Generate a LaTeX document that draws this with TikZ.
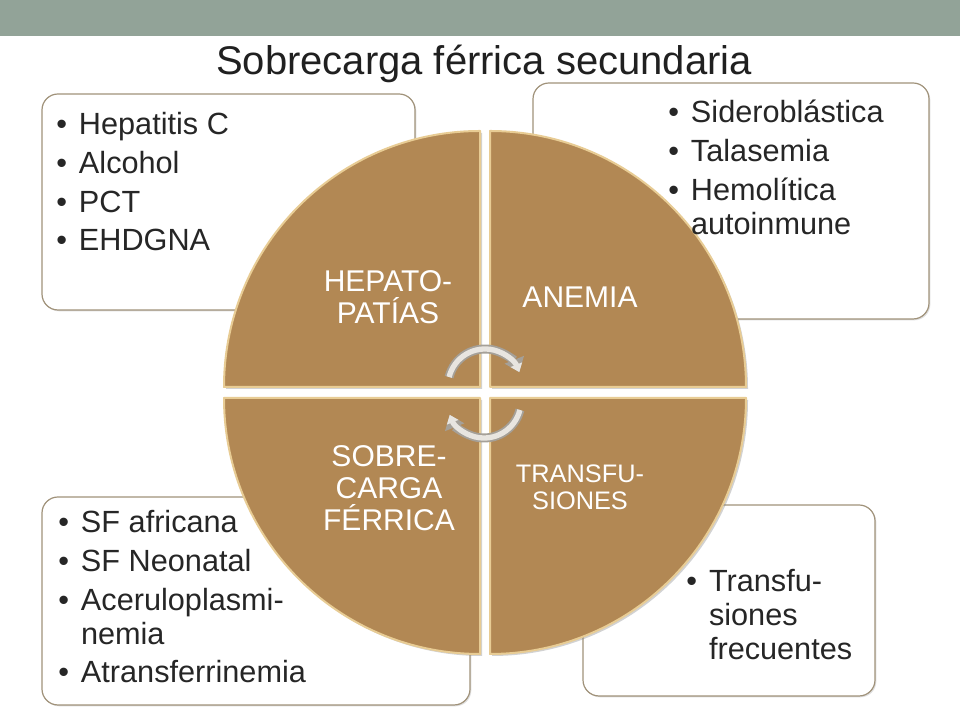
\documentclass[tikz,border=0pt]{standalone}
\usepackage{fontspec}
\setmainfont{Liberation Sans}
\usepackage{tikz}
\usetikzlibrary{arrows.meta,shadows}
\definecolor{barcol}{RGB}{146,163,152}
\definecolor{bronze}{RGB}{178,136,84}
\definecolor{bevel}{RGB}{232,204,148}
\definecolor{boxline}{RGB}{160,146,122}
\definecolor{inkcol}{RGB}{38,38,38}
\definecolor{titlecol}{RGB}{32,32,32}
\definecolor{arrowedge}{RGB}{165,160,152}
\definecolor{arrowfill}{RGB}{232,229,224}
\tikzset{
  listbox/.style={draw=boxline,fill=white,rounded corners=12pt,line width=0.9pt,
    drop shadow={shadow xshift=1pt,shadow yshift=-1pt,opacity=.25}},
  quad/.style={fill=bronze,draw=bevel,line width=1.5pt,
    drop shadow={shadow xshift=1.5pt,shadow yshift=-1.5pt,opacity=.35}},
  quadlabel/.style={text=white,align=center,inner sep=0pt,font=\fontsize{22.5}{24}\selectfont},
  listtext/.style={text=inkcol,anchor=base west,inner sep=0pt,font=\fontsize{23}{25.5}\selectfont},
  cyclearrow/.style={line width=6.75pt,draw=arrowedge,-{Triangle[length=10pt,width=15pt]}},
  cycleinner/.style={line width=4pt,draw=arrowfill,-{Triangle[length=6pt,width=9pt]}},
}
\newcommand{\itemgap}{\\[3.5pt]}

\begin{document}
\begin{tikzpicture}[x=0.75pt,y=0.75pt,line join=round]
	\fill[white] (0,0) rectangle (960,720);
	\useasboundingbox (0,0) rectangle (960,720);
	% banner and title
	\fill[barcol] (0,684) rectangle (960,720);
	\node[font=\fontsize{30}{36}\selectfont,text=titlecol,anchor=base] (title) at (484,645) {Sobrecarga férrica secundaria};
	% list boxes
	\path[listbox] (42,410) rectangle (415,626);
	\path[listbox] (533,401) rectangle (929,637);
	\path[listbox] (42,15) rectangle (470,223);
	\path[listbox] (583,24) rectangle (875,215);
	% the four quarters
	\path[quad] (480,333) -- (224,333) arc[start angle=180,end angle=90,radius=256] -- cycle;
	\path[quad] (490,333) -- (490,589) arc[start angle=90,end angle=0,radius=256] -- cycle;
	\path[quad] (480,322) -- (224,322) arc[start angle=180,end angle=270,radius=256] -- cycle;
	\path[quad] (490,322) -- (746,322) arc[start angle=0,end angle=-90,radius=256] -- cycle;
	\node[quadlabel] (hepato) at (388,423) {HEPATO-\\PATÍAS};
	\node[quadlabel] (anemia) at (580,423) {ANEMIA};
	\node[quadlabel] (sobre) at (389,232) {SOBRE-\\CARGA\\FÉRRICA};
	\node[quadlabel,font=\fontsize{19}{20.3}\selectfont] (transf) at (580,233) {TRANSFU-\\SIONES};
	% cycle arrows
	\coordinate (hubtop) at (485,334);
	\coordinate (hubbot) at (484,319);
	\draw[cyclearrow] (hubtop) ++(166:37) arc[start angle=166,end angle=22,radius=37];
	\draw[cycleinner] (hubtop) ++(166:37) arc[start angle=166,end angle=22,radius=37];
	\draw[cyclearrow] (hubbot) ++(-14:37) arc[start angle=-14,end angle=-158,radius=37];
	\draw[cycleinner] (hubbot) ++(-14:37) arc[start angle=-14,end angle=-158,radius=37];
	% bullet lists
	\node[listtext] (hepalist) at (56,585) {\begin{tabular}[t]{@{}l@{\hspace{9pt}}l@{}}
		\textbullet & Hepatitis C\itemgap
		\textbullet & Alcohol\itemgap
		\textbullet & PCT\itemgap
		\textbullet & EHDGNA
	\end{tabular}};
	\node[listtext] (anemlist) at (668,597) {\begin{tabular}[t]{@{}l@{\hspace{9pt}}l@{}}
		\textbullet & Sideroblástica\itemgap
		\textbullet & Talasemia\itemgap
		\textbullet & Hemolítica\\
		 & autoinmune
	\end{tabular}};
	\node[listtext] (sobrelist) at (58,187) {\begin{tabular}[t]{@{}l@{\hspace{9pt}}l@{}}
		\textbullet & SF africana\itemgap
		\textbullet & SF Neonatal\itemgap
		\textbullet & Aceruloplasmi-\\
		 & nemia\itemgap
		\textbullet & Atransferrinemia
	\end{tabular}};
	\node[listtext] (translist) at (686,128) {\begin{tabular}[t]{@{}l@{\hspace{9pt}}l@{}}
		\textbullet & Transfu-\\
		 & siones\\
		 & frecuentes
	\end{tabular}};
\end{tikzpicture}
\end{document}
